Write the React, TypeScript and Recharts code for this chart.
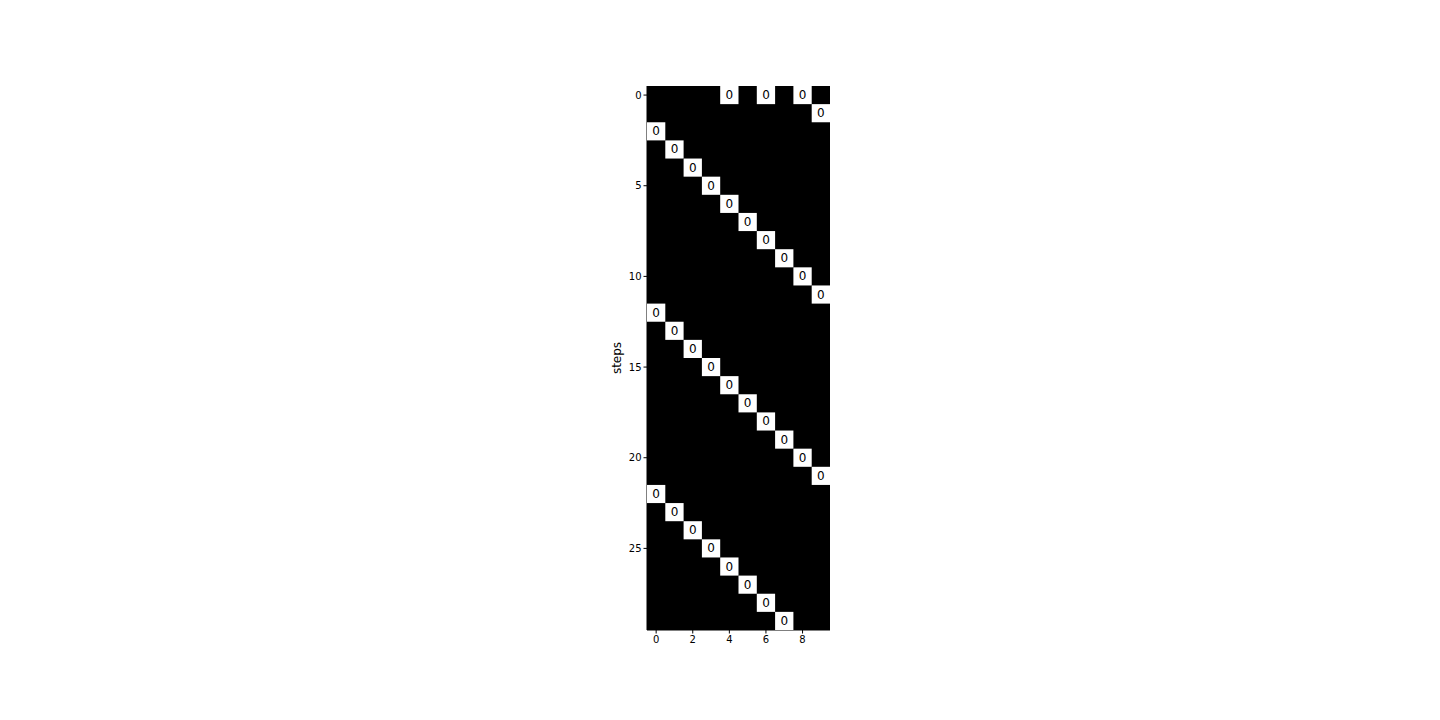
import { ReferenceArea, Scatter, ScatterChart, XAxis, YAxis, Label } from "recharts";

// white cells of the step map, each annotated with its value
const cellSteps = [0, 0, 0, 1, 2, 3, 4, 5, 6, 7, 8, 9, 10, 11, 12, 13, 14, 15, 16, 17, 18, 19, 20, 21, 22, 23, 24, 25, 26, 27, 28, 29];
const cellCols = [4, 6, 8, 9, 0, 1, 2, 3, 4, 5, 6, 7, 8, 9, 0, 1, 2, 3, 4, 5, 6, 7, 8, 9, 0, 1, 2, 3, 4, 5, 6, 7];
const cellValues = [0, 0, 0, 0, 0, 0, 0, 0, 0, 0, 0, 0, 0, 0, 0, 0, 0, 0, 0, 0, 0, 0, 0, 0, 0, 0, 0, 0, 0, 0, 0, 0];

const COLS = 10;
const ROWS = 30;
const xTicks = [0, 2, 4, 6, 8];
const yTicks = [0, 5, 10, 15, 20, 25];

const PLOT_W = 183;
const PLOT_H = 544;
const cellW = PLOT_W / COLS;
const cellH = PLOT_H / ROWS;

const cells = cellSteps.map((step, i) => ({ step, col: cellCols[i], value: cellValues[i] }));

const font = "'DejaVu Sans', sans-serif";

function Cell(props: { cx?: number; cy?: number; payload?: { value: number } }) {
  const { cx = 0, cy = 0, payload } = props;
  return (
    <g>
      <rect x={cx - cellW / 2} y={cy - cellH / 2} width={cellW} height={cellH} fill="#fff" />
      <text x={cx} y={cy} textAnchor="middle" dominantBaseline="central" fontSize={12} style={{ fontFamily: font }} fill="#000">
        {payload?.value}
      </text>
    </g>
  );
}

export default function App() {
  return (
    <div style={{ position: "absolute", left: 0, top: 0, background: "#fff", fontFamily: font }}>
      <ScatterChart width={1440} height={720} margin={{ top: 86, right: 610, bottom: 60, left: 607 }}>
        <XAxis
          type="number"
          dataKey="col"
          domain={[-0.5, COLS - 0.5]}
          ticks={xTicks}
          allowDataOverflow
          height={30}
          tickSize={3.5}
          tickLine={{ stroke: "#000" }}
          axisLine={{ stroke: "#000" }}
          tick={{ fill: "#000", fontSize: 10, style: { fontFamily: font } }}
        />
        <YAxis
          type="number"
          dataKey="step"
          domain={[-0.5, ROWS - 0.5]}
          ticks={yTicks}
          reversed
          allowDataOverflow
          width={40}
          tickSize={3.5}
          tickLine={{ stroke: "#000" }}
          axisLine={{ stroke: "#000" }}
          tick={{ fill: "#000", fontSize: 10, style: { fontFamily: font } }}
        >
          <Label
            content={({ viewBox }: any) => {
              const x = viewBox.x + 10;
              const y = viewBox.y + viewBox.height / 2;
              return (
                <text x={x} y={y} transform={`rotate(-90 ${x} ${y})`} textAnchor="middle" dominantBaseline="central" fontSize={12} style={{ fontFamily: font }} fill="#000">
                  steps
                </text>
              );
            }}
          />
        </YAxis>
        <ReferenceArea x1={-0.5} x2={COLS - 0.5} y1={-0.5} y2={ROWS - 0.5} fill="#000" fillOpacity={1} stroke="none" ifOverflow="visible" />
        <Scatter data={cells} shape={<Cell />} isAnimationActive={false} />
      </ScatterChart>
    </div>
  );
}
